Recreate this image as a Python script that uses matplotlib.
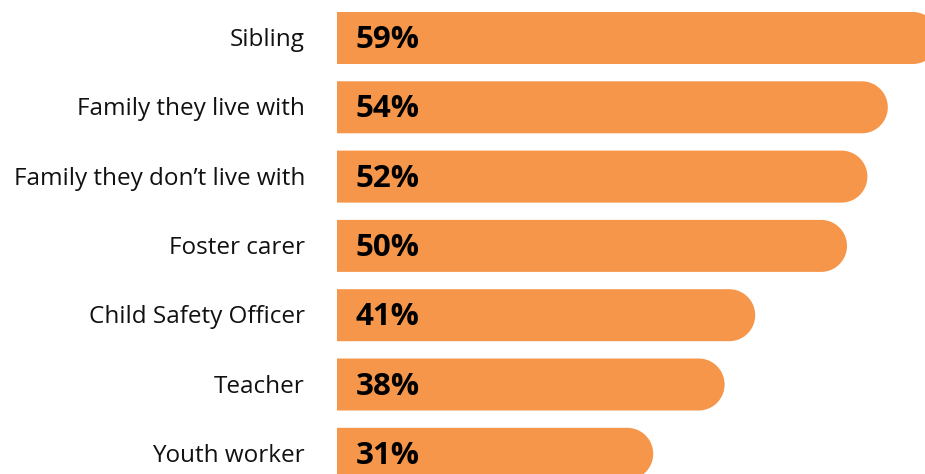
import numpy as np
import matplotlib.pyplot as plt
from matplotlib.patches import Polygon
from matplotlib.transforms import blended_transform_factory

# who young people talk to (share of respondents)
categories = ["Sibling", "Family they live with", "Family they don't live with",
              "Foster carer", "Child Safety Officer", "Teacher", "Youth worker"]
values = [59, 54, 52, 50, 41, 38, 31]
value_labels = ["59%", "54%", "52%", "50%", "41%", "38%", "31%"]

bar_color = "#F5964A"
text_color = "#111111"

W, H = 925, 474
fig = plt.figure(figsize=(W / 100, H / 100), dpi=100)

# axes start where the bars start; 1 data unit = 10.2 px horizontally, 69.3 px per row
left_px = 337
px_per_unit = 10.2
row_px = 69.3
ax = fig.add_axes([left_px / W, 0, (W - left_px) / W, 1])
ax.set_xlim(0, (W - left_px) / px_per_unit)
first_center = 38
ax.set_ylim((H - first_center) / row_px, -first_center / row_px)

bar_h = 52 / row_px          # bar height in row units
cap_w = 26 / px_per_unit     # radius of the rounded end in x units
theta = np.linspace(-np.pi / 2, np.pi / 2, 60)


def rounded_bar(i, v):
    # outline: square left side, half-round right end, as one shape
    half = bar_h / 2
    arc_x = v - cap_w + cap_w * np.cos(theta)
    arc_y = i + half * np.sin(theta)
    xs = np.concatenate([[0], arc_x, [0]])
    ys = np.concatenate([[i - half], arc_y, [i + half]])
    return Polygon(np.column_stack([xs, ys]), closed=True,
                   facecolor=bar_color, edgecolor="none")


for i, v in enumerate(values):
    ax.add_patch(rounded_bar(i, v))
    ax.text(1.8, i + 0.03, value_labels[i], ha="left", va="center",
            fontsize=22.5, fontweight="bold", color="black", family="Open Sans")

# category names to the left of the bars
trans = blended_transform_factory(fig.transFigure, ax.transData)
for i, name in enumerate(categories):
    ax.text(305 / W, i + 0.03, name.replace("'", "\u2019"), transform=trans,
            ha="right", va="center", fontsize=17.5, color=text_color,
            family="Open Sans")

ax.axis("off")
fig.savefig("out.png", dpi=100)
